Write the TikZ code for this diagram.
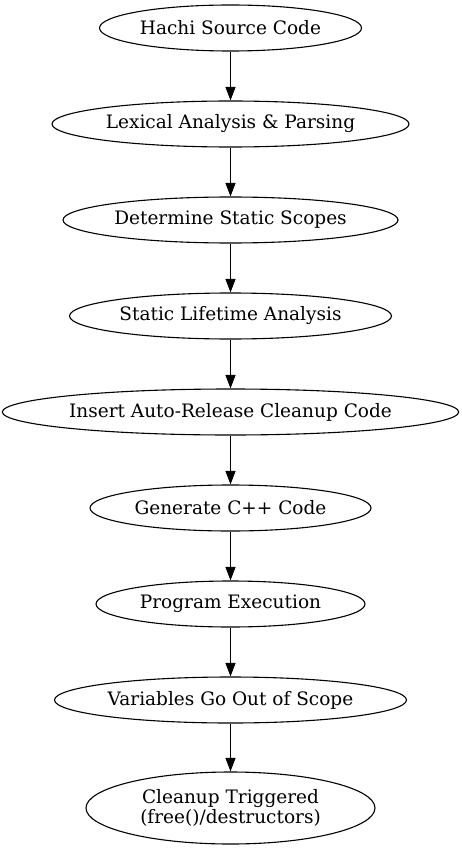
\documentclass[tikz,border=0pt]{standalone}
\usepackage{fontspec}
\setmainfont{DejaVu Serif}
\usetikzlibrary{shapes.geometric,arrows.meta}
\tikzset{
	stage/.style={ellipse,draw,line width=1.1pt,inner sep=0pt,minimum height=46pt,
		font=\fontsize{18.5}{20}\selectfont,align=center},
	flow/.style={line width=1.1pt,-{Triangle[length=13.5pt,width=10pt]}}
}
\begin{document}
\begin{tikzpicture}[x=1pt,y=-1pt]
	\useasboundingbox (0,0) rectangle (461,850);
	\foreach \name/\w/\i/\txt in {src/262/0/Hachi Source Code,
		lex/357/1/Lexical Analysis \& Parsing,
		scope/335/2/Determine Static Scopes,
		life/322/3/Static Lifetime Analysis,
		ins/453/4/Insert Auto-Release Cleanup Code,
		gen/281/5/Generate C++ Code,
		exec/269/6/Program Execution,
		out/352/7/Variables Go Out of Scope}
	\node[stage,minimum width=\w pt] (\name) at (230.5,28+96*\i) {\txt};
	\node[stage,minimum width=289pt,minimum height=72pt] (clean) at (230.5,808)
		{Cleanup Triggered\\(free()/destructors)};
	\foreach \a/\b in {src/lex,lex/scope,scope/life,life/ins,ins/gen,gen/exec,exec/out,out/clean}
	\draw[flow] (\a) -- (\b);
\end{tikzpicture}
\end{document}
